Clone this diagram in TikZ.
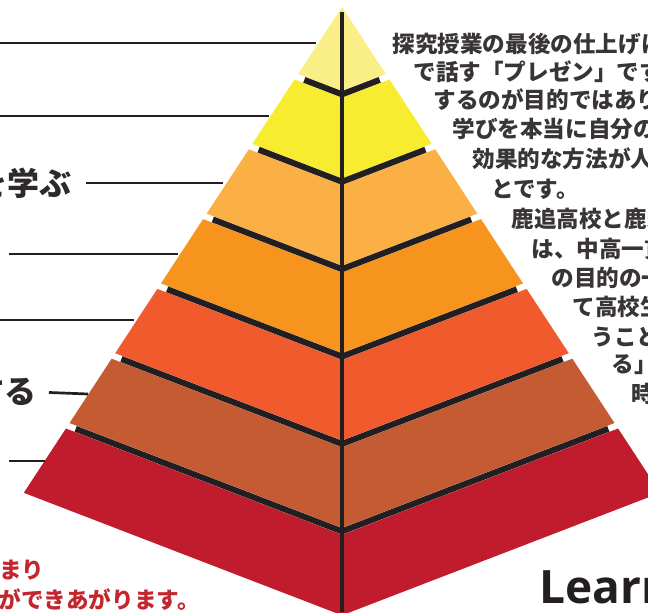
\documentclass[tikz,border=0pt]{standalone}
\usepackage{fontspec}
\newfontfamily\jp{Noto Sans CJK JP}
\newfontfamily\latin{Open Sans}
\usetikzlibrary{calc}

\definecolor{ink}{HTML}{231F20}
\definecolor{bandA}{HTML}{F9EF86}
\definecolor{bandB}{HTML}{F8EC31}
\definecolor{bandC}{HTML}{FBB045}
\definecolor{bandD}{HTML}{F7941E}
\definecolor{bandE}{HTML}{F15A2C}
\definecolor{bandF}{HTML}{C55B33}
\definecolor{bandG}{HTML}{C11B2E}
\definecolor{redtext}{HTML}{C1272D}

\begin{document}
\begin{tikzpicture}[x=0.5pt, y=-0.5pt,
  leader/.style={draw=ink, line width=1.35pt},
  gapline/.style={draw=ink, line width=3pt, line join=miter},
  body/.style={inner sep=0pt, text=ink!90, font=\jp\bfseries\fontsize{11.3}{13}\selectfont},
  side/.style={inner sep=0pt, text=ink!95, font=\jp\bfseries\fontsize{16}{18}\selectfont},
  note/.style={inner sep=0pt, text=redtext, font=\jp\bfseries\fontsize{11.3}{13}\selectfont}]

\useasboundingbox (0,0) rectangle (648,612);
\clip (0,0) rectangle (648,612);

% pyramid bands, top to bottom
\foreach \c [count=\k from 0] in {bandA,bandB,bandC,bandD,bandE,bandF,bandG} {
  \pgfmathsetmacro\yb{74+69.8*\k}
  \pgfmathsetmacro\yt{\k==0 ? 7 : 79.5+69.8*(\k-1)}
  \pgfmathsetmacro\hb{0.655*(\yb-7)}
  \pgfmathsetmacro\ht{0.655*(\yt-7)}
  \fill[\c] (342-\ht,\yt) -- (342,\yt+0.385*\ht) -- (342+\ht,\yt)
    -- (342+\hb,\yb) -- (342,\yb+0.385*\hb) -- (342-\hb,\yb) -- cycle;
}

% dark seams between the bands
\foreach \k in {1,...,6} {
  \pgfmathsetmacro\ym{74+69.8*(\k-1)+2.75}
  \pgfmathsetmacro\h{0.655*(\ym-7)}
  \draw[gapline] (342-\h+8,\ym+3.1) -- (342,\ym+0.385*\h) -- (342+\h-8,\ym+3.1);
}

\coordinate (apex) at (342,12);
\coordinate (foot) at (342,612);
\draw[ink, line width=2pt] (apex) -- (foot);

% leader lines on the left
\coordinate (s1) at (0,43);
\coordinate (s2) at (0,116);
\coordinate (s4) at (9,254);
\coordinate (s5) at (0,320);
\coordinate (s7) at (9,461);
\coordinate (e1) at (316,43);
\coordinate (e2) at (269,116);
\coordinate (e3) at (223,183);
\coordinate (e4) at (178,254);
\coordinate (e5) at (134,320);
\coordinate (e6) at (88,394);
\coordinate (e7) at (45,461);

\node[name=lab3, side, anchor=east] at (72,183) {を学ぶ};
\node[name=lab6, side, anchor=east] at (37,392) {する};

\draw[leader] (s1) -- (e1);
\draw[leader] (s2) -- (e2);
\draw[leader, shorten <=7pt] (lab3.east) -- (e3);
\draw[leader] (s4) -- (e4);
\draw[leader] (s5) -- (e5);
\draw[leader, shorten <=6pt] (lab6.east) -- (e6);
\draw[leader] (s7) -- (e7);

% text on the right, following the slope
\node[name=t1, body, anchor=west] at (392,44) {探究授業の最後の仕上げは};
\node[name=t2, body, anchor=west] at (413,72) {で話す「プレゼン」です};
\node[name=t3, body, anchor=west] at (433,100) {するのが目的ではありま};
\node[name=t4, body, anchor=west] at (452,129) {学びを本当に自分の};
\node[name=t5, body, anchor=west] at (472,159) {効果的な方法が人};
\node[name=t6, body, anchor=west] at (491,189) {とです。};
\node[name=t7, body, anchor=west] at (511,219) {鹿追高校と鹿追};
\node[name=t8, body, anchor=west] at (531,249) {は、中高一貫};
\node[name=t9, body, anchor=west] at (551,278) {の目的の一つ};
\node[name=t10, body, anchor=west] at (572,307) {て高校生};
\node[name=t11, body, anchor=west] at (591,337) {うこと};
\node[name=t12, body, anchor=west] at (611,365) {る」};
\node[name=t13, body, anchor=west] at (631,394) {時};

% red note, bottom left
\node[name=n1, note, anchor=west] at (-1,570) {まり};
\node[name=n2, note, anchor=east] at (200,600) {ができあがります。};

\node[name=title, inner sep=0pt, anchor=base west, text=ink, font=\latin\bfseries\fontsize{23}{26}\selectfont] at (539,603) {Learning};

\end{tikzpicture}
\end{document}
